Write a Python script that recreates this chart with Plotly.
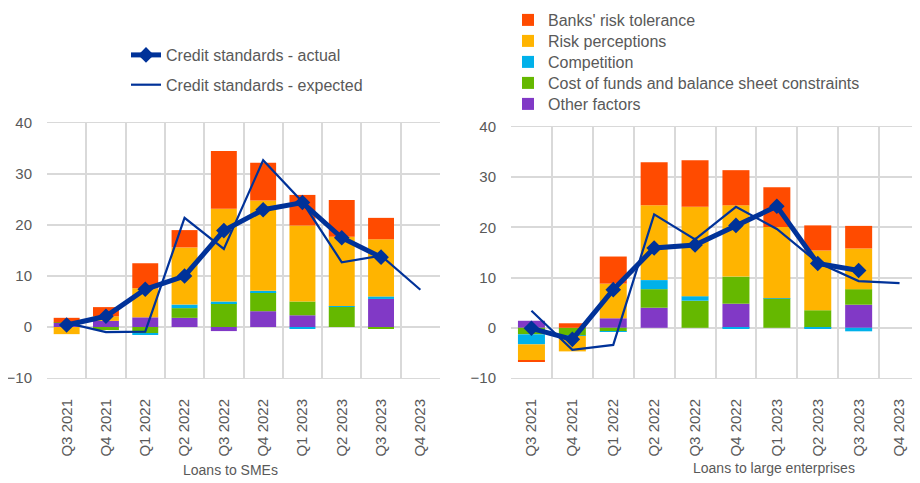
import plotly.graph_objects as go

quarters = ["Q3 2021", "Q4 2021", "Q1 2022", "Q2 2022", "Q3 2022",
            "Q4 2022", "Q1 2023", "Q2 2023", "Q3 2023", "Q4 2023"]

# loans to SMEs
sme_other = [0.8, 1.2, 1.9, 1.8, -0.8, 3.1, 2.3, 0.0, 5.5, None]
sme_cost = [0.1, -0.6, -1.2, 1.9, 4.7, 3.7, 2.7, 4.0, -0.2, None]
sme_comp = [0.0, 0.0, -0.3, 0.7, 0.3, 0.3, -0.3, 0.1, 0.5, None]
sme_riskperc = [-1.4, 0.9, 5.7, 11.2, 18.2, 17.7, 14.9, 13.6, 11.2, None]
sme_risktol = [0.9, 1.8, 4.9, 3.4, 11.3, 7.4, 6.0, 7.2, 4.2, None]
sme_actual = [0.4, 2.1, 7.4, 10.0, 18.9, 23.0, 24.4, 17.5, 13.7, None]
sme_expected = [0.8, -1.0, -0.9, 21.4, 15.3, 32.7, 24.5, 12.7, 14.0, 7.3]

# loans to large enterprises
le_other = [1.4, 0.0, 1.9, 4.0, 0.0, 4.8, 0.0, 0.0, 4.6, None]
le_cost = [-1.3, -1.5, -0.7, 3.7, 5.4, 5.4, 5.8, 3.5, 3.1, None]
le_comp = [-2.0, -0.1, -0.1, 1.8, 0.9, -0.2, 0.1, -0.1, -0.7, None]
le_riskperc = [-3.2, -3.1, 6.9, 14.9, 17.8, 14.2, 14.2, 11.9, 8.1, None]
le_risktol = [-0.3, 0.9, 5.4, 8.6, 9.3, 7.0, 7.9, 5.0, 4.5, None]
le_actual = [-0.1, -2.3, 7.6, 15.9, 16.5, 20.4, 24.2, 12.8, 11.4, None]
le_expected = [3.4, -4.4, -3.4, 22.6, 17.6, 24.1, 19.7, 13.0, 9.3, 8.9]

factor_names = ["Other factors", "Cost of funds and balance sheet constraints",
                "Competition", "Risk perceptions", "Banks' risk tolerance"]
factor_colors = ["#8139C6", "#65B800", "#00B1EA", "#FFB400", "#FF4B00"]

navy = "#003299"
grey = "#595959"
gridc = "#D9D9D9"
font = "Liberation Sans, Arial, sans-serif"

W, H = 920, 483
pos = list(range(len(quarters)))

# one legend per factor so the rows sit 21px apart; legend2 = top row
factor_legends = ["legend6", "legend5", "legend4", "legend3", "legend2"]

fig = go.Figure()

panels = [
    ("x", "y", [sme_other, sme_cost, sme_comp, sme_riskperc, sme_risktol], sme_actual, sme_expected),
    ("x2", "y2", [le_other, le_cost, le_comp, le_riskperc, le_risktol], le_actual, le_expected),
]

for i, (xa, ya, factors, actual, expected) in enumerate(panels):
    for name, color, vals, lg in zip(factor_names, factor_colors, factors, factor_legends):
        fig.add_trace(go.Bar(
            x=pos, y=vals, name=name, marker_color=color, marker_line_width=0,
            width=0.66, xaxis=xa, yaxis=ya, legend=lg,
            showlegend=(i == 1),
        ))
    fig.add_trace(go.Scatter(
        x=pos, y=actual, name="Credit standards - actual", mode="lines+markers",
        line=dict(color=navy, width=5), marker=dict(symbol="diamond", size=12, color=navy),
        xaxis=xa, yaxis=ya, legend="legend", legendgroup="a", showlegend=(i == 0),
    ))
    fig.add_trace(go.Scatter(
        x=pos, y=expected, name="Credit standards - expected", mode="lines",
        line=dict(color=navy, width=2.2),
        xaxis=xa, yaxis=ya, legend="legend", legendgroup="b", showlegend=(i == 0),
    ))

xcommon = dict(
    range=[-0.5, 9.5], tickvals=pos, ticktext=quarters, tickangle=-90,
    showgrid=False, zeroline=False, ticks="",
    showline=True, mirror=True, linecolor=gridc, linewidth=1,
    minor=dict(tickvals=[p - 0.5 for p in pos] + [9.5], showgrid=True,
               gridcolor=gridc, gridwidth=1.5, ticks=""),
    tickfont=dict(size=15, color=grey, family=font),
    automargin=False, ticklabelstandoff=14,
)
ycommon = dict(
    range=[-10, 40], dtick=10, showgrid=True, gridcolor=gridc, gridwidth=1.5,
    zeroline=False, ticks="", showline=False,
    tickfont=dict(size=15, color=grey, family=font),
    automargin=False, ticklabelstandoff=14,
)

leg_font = dict(size=16, color=grey, family=font)

# positions below are in figure pixels (the page adds an 8px body margin)
layout_legends = {}
for lg in factor_legends:
    row = int(lg[-1]) - 2
    top = -5 + 21 * row
    layout_legends[lg] = dict(x=500 / W, y=1 - top / H, xanchor="left", yanchor="top",
                              font=leg_font, bgcolor="rgba(0,0,0,0)")

fig.update_layout(
    width=W, height=H,
    margin=dict(l=0, r=0, t=0, b=0, autoexpand=False),
    paper_bgcolor="white", plot_bgcolor="white",
    barmode="relative",
    font=dict(family=font, color=grey, size=16),
    xaxis=dict(domain=[39 / W, 432 / W], anchor="y", **xcommon),
    yaxis=dict(domain=[1 - 370 / H, 1 - 115 / H], anchor="x", **ycommon),
    xaxis2=dict(domain=[503 / W, 912 / W], anchor="y2", **xcommon),
    yaxis2=dict(domain=[1 - 370 / H, 1 - 119 / H], anchor="x2", **ycommon),
    legend=dict(x=118 / W, y=1 - 30 / H, xanchor="left", yanchor="top",
                traceorder="grouped", tracegroupgap=6,
                font=leg_font, bgcolor="rgba(0,0,0,0)"),
    annotations=[
        dict(text="Loans to SMEs", x=222 / W, y=1 - 462 / H, xref="paper", yref="paper",
             xanchor="center", yanchor="middle", showarrow=False,
             font=dict(size=14, color=grey, family=font)),
        dict(text="Loans to large enterprises", x=766 / W, y=1 - 460 / H, xref="paper", yref="paper",
             xanchor="center", yanchor="middle", showarrow=False,
             font=dict(size=14, color=grey, family=font)),
    ],
    **layout_legends,
)

fig.write_html("out.html")
